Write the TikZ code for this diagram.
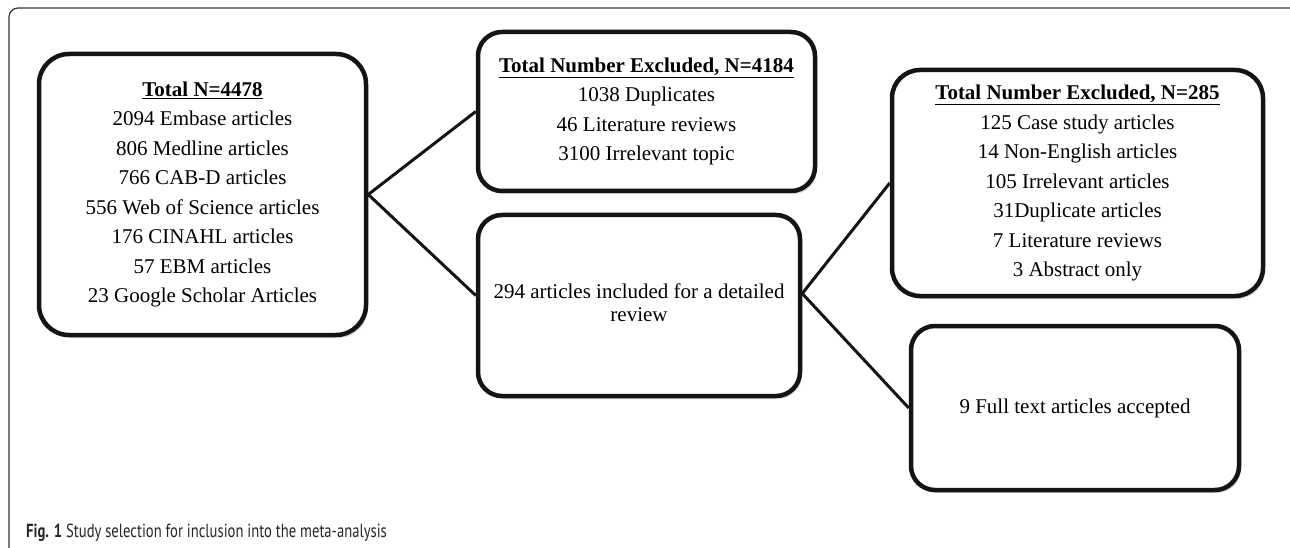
\documentclass[tikz,border=0pt]{standalone}
\usepackage{fontspec}
\setmainfont{Liberation Serif}
\newfontfamily\capfont{PT Sans}
\usetikzlibrary{shadows,calc}
\tikzset{
  flowbox/.style={draw=black!92, line width=4.5pt, rounded corners=24pt, fill=white,
    align=center, inner sep=0pt,
    drop shadow={shadow xshift=2pt, shadow yshift=-3pt, opacity=0.25, fill=black!60},
    font=\fontsize{21}{29.5}\selectfont},
  link/.style={draw=black!92, line width=3pt},
  frame/.style={draw=black!80, line width=1.2pt, rounded corners=9pt}
}
\newcommand{\boxhead}[1]{\underline{\textbf{#1}}}
\begin{document}
\begin{tikzpicture}[x=1pt,y=-1pt]
\useasboundingbox (0,0) rectangle (1290,548);
\begin{scope}
\clip (0,0) rectangle (1290,548);
\draw[frame] (9,8) rectangle (1310,570);
\end{scope}
\node[flowbox, rounded corners=30pt, minimum width=327pt, minimum height=281pt] (b1) at (202.5,194.5)
  {\boxhead{Total N=4478}\\2094 Embase articles\\806 Medline articles\\766 CAB-D articles\\556 Web of Science articles\\176 CINAHL articles\\57 EBM articles\\23 Google Scholar Articles};
\node[flowbox, minimum width=337pt, minimum height=159pt] (b2) at (646.5,111.5)
  {\boxhead{Total Number Excluded, N=4184}\\1038 Duplicates\\46 Literature reviews\\3100 Irrelevant topic};
\node[flowbox, minimum width=322pt, minimum height=181pt, font=\fontsize{21}{21.5}\selectfont] (b3) at (639,305.5)
  {\raisebox{10pt}{\begin{tabular}{@{}c@{}}294 articles included for a detailed\\[2pt]review\end{tabular}}};
\node[flowbox, rounded corners=28pt, minimum width=371pt, minimum height=226pt] (b4) at (1077.5,183)
  {\boxhead{Total Number Excluded, N=285}\\125 Case study articles\\14 Non-English articles\\105 Irrelevant articles\\31Duplicate articles\\7 Literature reviews\\3 Abstract only};
\node[flowbox, minimum width=328pt, minimum height=164pt] (b5) at (1075,408)
  {9 Full text articles accepted};
\coordinate (v1) at (b1.east);
\coordinate (j3) at ($(b3.west)+(0,-10)$);
\coordinate (v3) at ($(b3.east)+(0,-12)$);
\draw[link] (b2.west) -- (v1) -- (j3);
\draw[link] (b4.west) -- (v3) -- (b5.west);
\node[anchor=base west, inner sep=0pt, text=black!85] (cap) at (26,537)
  {\scalebox{0.77}[1]{\capfont\fontsize{19}{22}\selectfont\textbf{Fig. 1} Study selection for inclusion into the meta-analysis}};
\end{tikzpicture}
\end{document}
